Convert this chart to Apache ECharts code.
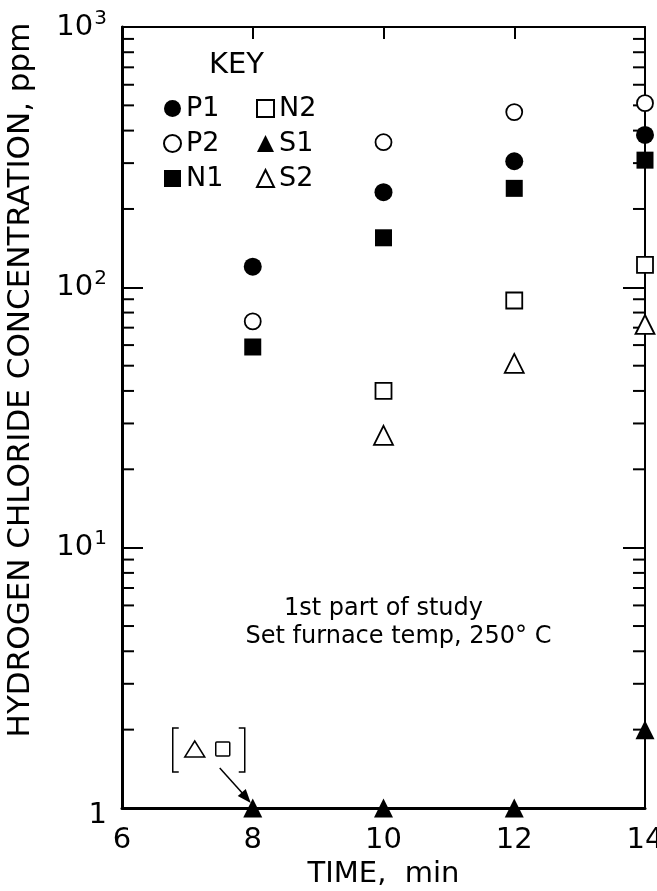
<!DOCTYPE html>
<html><head><meta charset="utf-8">
<script src="https://cdn.jsdelivr.net/npm/echarts@6/dist/echarts.min.js"></script>
<style>html,body{margin:0;padding:0;background:#fff}#c{width:657px;height:891px}</style>
</head><body><div id="c"></div>
<script>
// ---- data ----
const times = [8, 10, 12, 14];
const P1 = [120, 232, 305, 385];
const P2 = [74, 361, 471, 510];
const N1 = [59, 155, 240, 308];
const N2 = [null, 40, 89, 122];
const S1 = [1, 1, 1, 2];
const S2 = [null, 27, 51, 72];
const xTickLabels = [6, 8, 10, 12, 14];
const yDecades = [1, 10, 100, 1000];
const yMinorTicks = [2, 3, 4, 5, 6, 7, 8, 9, 20, 30, 40, 50, 60, 70, 80, 90, 200, 300, 400, 500, 600, 700, 800, 900];
const noteLines = ['1st part of study', 'Set furnace temp, 250° C'];

const FONT = 'DejaVu Sans';
const chart = echarts.init(document.getElementById('c'), null, {renderer: 'canvas'});

function pts(arr) {
  const out = [];
  times.forEach((t, i) => { if (arr[i] !== null) out.push([t, arr[i]]); });
  return out;
}
const filled = {color: '#000', borderColor: '#000', borderWidth: 0, opacity: 1};
const open = {color: '#fff', borderColor: '#000', borderWidth: 1.8, opacity: 1};

function ser(name, arr, symbol, size, style, z) {
  return {name, type: 'scatter', data: pts(arr), symbol, symbolSize: size,
    itemStyle: style, z: z || 3, xAxisIndex: 0, yAxisIndex: 0, clip: false};
}
const legendText = {fontSize: 27, lineHeight: 26, fontFamily: FONT, color: '#000'};

const option = {
  animation: false,
  backgroundColor: '#fff',
  textStyle: {fontFamily: FONT, color: '#000'},
  grid: {left: 122, right: 12, top: 27, bottom: 83, outerBoundsMode: 'none', containLabel: false},
  legend: [
    {data: ['P1', 'P2', 'N1'], orient: 'vertical', left: 158, top: 90, itemGap: 8,
     itemWidth: 17, itemHeight: 17, textStyle: legendText, selectedMode: false},
    {data: ['N2', 'S1', 'S2'], orient: 'vertical', left: 251, top: 90, itemGap: 8,
     itemWidth: 17, itemHeight: 17, textStyle: legendText, selectedMode: false}
  ],
  xAxis: [
    {type: 'value', min: 6, max: 14, interval: 2, position: 'bottom',
     name: 'TIME,  min', nameLocation: 'middle', nameGap: 50,
     nameTextStyle: {fontSize: 29, fontFamily: FONT, color: '#000'},
     axisLine: {show: true, lineStyle: {color: '#000', width: 3}},
     axisTick: {show: false},
     axisLabel: {fontSize: 29, fontFamily: FONT, color: '#000', margin: 18,
       formatter: v => (xTickLabels.indexOf(v) >= 0 ? String(v) : '')},
     splitLine: {show: false}},
    {type: 'value', min: 6, max: 14, interval: 2, position: 'top',
     axisLine: {show: true, lineStyle: {color: '#000', width: 2}},
     axisTick: {show: true, inside: true, length: 12, lineStyle: {color: '#000', width: 2}},
     axisLabel: {show: false}, splitLine: {show: false}}
  ],
  yAxis: [
    {type: 'log', logBase: 10, min: 1, max: 1000, position: 'left',
     name: 'HYDROGEN CHLORIDE CONCENTRATION, ppm', nameLocation: 'middle', nameGap: 86,
     nameTextStyle: {fontSize: 31, fontFamily: FONT, color: '#000', padding: [0, 0, 0, 75]},
     axisLine: {show: true, lineStyle: {color: '#000', width: 3}},
     axisTick: {show: true, inside: true, length: 21, lineStyle: {color: '#000', width: 2}},
     axisLabel: {margin: 15, color: '#000', fontFamily: FONT,
       formatter: v => {
         if (yDecades.indexOf(v) < 0) return '';
         if (v === 1) return '{o|1}';
         return '{b|10}{s|' + Math.round(Math.log10(v)) + '}';
       },
       rich: {b: {fontSize: 29, fontFamily: FONT, color: '#000', lineHeight: 32},
              o: {fontSize: 29, fontFamily: FONT, color: '#000', lineHeight: 32, padding: [14, 0, 0, 0]},
              s: {fontSize: 20, fontFamily: FONT, color: '#000', lineHeight: 32, padding: [0, 0, 17, 1]}}},
     splitLine: {show: false}},
    {type: 'log', logBase: 10, min: 1, max: 1000, position: 'right',
     axisLine: {show: true, lineStyle: {color: '#000', width: 2}},
     axisTick: {show: true, inside: true, length: 22, lineStyle: {color: '#000', width: 2}},
     axisLabel: {show: false}, splitLine: {show: false}}
  ],
  series: [
    {type: 'custom', name: 'minorTicks', xAxisIndex: 0, yAxisIndex: 0, z: 1,
     data: yMinorTicks.map(v => [6, v]), silent: true, clip: false,
     renderItem: (params, api) => {
       const v = api.value(1);
       const a = api.coord([6, v]);
       const b = api.coord([14, v]);
       const st = {stroke: '#000', lineWidth: 2};
       return {type: 'group', children: [
         {type: 'line', shape: {x1: a[0], y1: a[1], x2: a[0] + 12, y2: a[1]}, style: st},
         {type: 'line', shape: {x1: b[0] - 12, y1: b[1], x2: b[0], y2: b[1]}, style: st}
       ]};
     }},
    ser('N2', N2, 'rect', 16, open, 3),
    ser('S2', S2, 'triangle', 19, open, 3),
    ser('P2', P2, 'circle', 16, open, 3),
    ser('N1', N1, 'rect', 17, filled, 4),
    ser('P1', P1, 'circle', 18, filled, 4),
    ser('S1', S1, 'triangle', 19, filled, 5)
  ]
};
chart.setOption(option);

// annotations placed relative to the data point (8, 1)
const tip = chart.convertToPixel({xAxisIndex: 0, yAxisIndex: 0}, [8, 1]);
const c10 = chart.convertToPixel({xAxisIndex: 0, yAxisIndex: 0}, [10, 4]);
const bx = tip[0] - 80, by = tip[1] - 80;
chart.setOption({
  graphic: [
    {type: 'text', left: 209, top: 51, style: {text: 'KEY', fontSize: 29, fontFamily: FONT, fill: '#000'}},
    {type: 'text', x: c10[0], y: c10[1] - 42, style: {text: noteLines[0], fontSize: 24,
      fontFamily: FONT, fill: '#000', align: 'center', verticalAlign: 'middle'}},
    {type: 'text', x: c10[0] + 15, y: c10[1] - 14, style: {text: noteLines[1], fontSize: 24,
      fontFamily: FONT, fill: '#000', align: 'center', verticalAlign: 'middle'}},
    {type: 'polyline', shape: {points: [[bx + 6, by], [bx, by], [bx, by + 44], [bx + 6, by + 44]]}, style: {stroke: '#000', lineWidth: 1.5, fill: null}},
    {type: 'polyline', shape: {points: [[bx + 66, by], [bx + 72, by], [bx + 72, by + 44], [bx + 66, by + 44]]}, style: {stroke: '#000', lineWidth: 1.5, fill: null}},
    {type: 'polygon', shape: {points: [[bx + 22, by + 13], [bx + 12, by + 29], [bx + 32, by + 29]]}, style: {stroke: '#000', lineWidth: 1.5, fill: '#fff'}},
    {type: 'rect', shape: {x: bx + 43, y: by + 14, width: 14, height: 14, r: 1}, style: {stroke: '#000', lineWidth: 1.5, fill: '#fff'}},
    {type: 'line', shape: {x1: bx + 47, y1: by + 40, x2: tip[0] - 6, y2: tip[1] - 10}, style: {stroke: '#000', lineWidth: 1.5}},
    {type: 'polygon', shape: {points: [[tip[0] - 2, tip[1] - 5], [tip[0] - 15, tip[1] - 12], [tip[0] - 7, tip[1] - 19]]}, style: {fill: '#000'}}
  ]
});
</script></body></html>
